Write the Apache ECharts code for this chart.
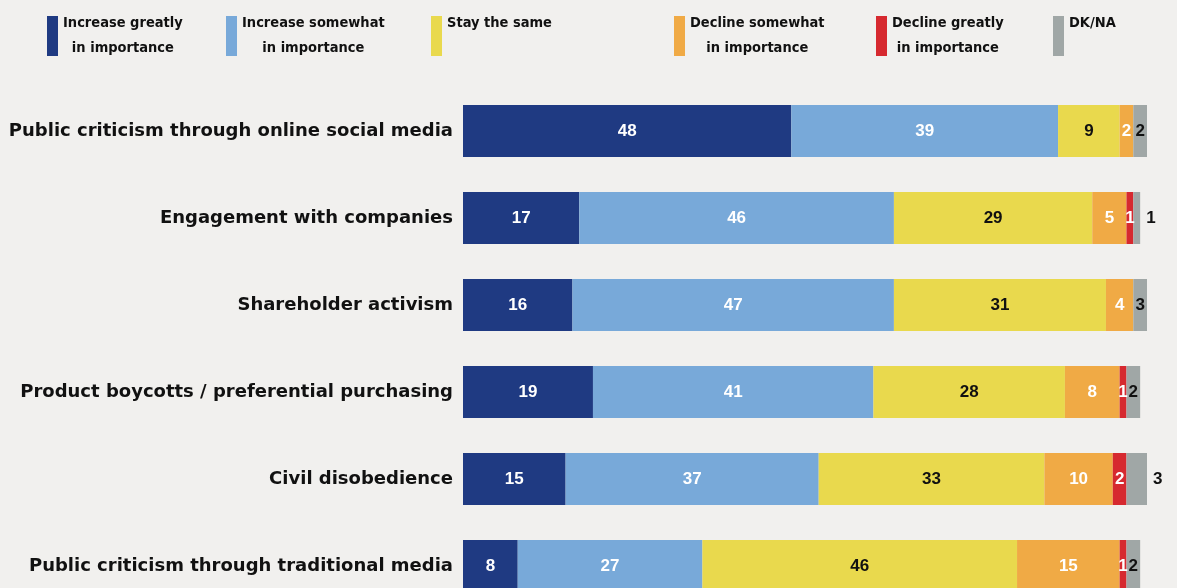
<!DOCTYPE html>
<html>
<head>
<meta charset="utf-8">
<script src="https://cdn.jsdelivr.net/npm/echarts@6/dist/echarts.min.js"></script>
<style>
  html, body { margin: 0; padding: 0; background: #f1f0ee; overflow: hidden; }
  #chart { width: 1177px; height: 588px; }
</style>
</head>
<body>
<div id="chart"></div>
<script>
// Survey categories, top to bottom
const categories = [
  'Public criticism through online social media',
  'Engagement with companies',
  'Shareholder activism',
  'Product boycotts / preferential purchasing',
  'Civil disobedience',
  'Public criticism through traditional media'
];

// Response shares (%) per category
const increaseGreatly  = [48, 17, 16, 19, 15, 8];
const increaseSomewhat = [39, 46, 47, 41, 37, 27];
const staySame         = [9, 29, 31, 28, 33, 46];
const declineSomewhat  = [2, 5, 4, 8, 10, 15];
const declineGreatly   = [0, 1, 0, 1, 2, 1];
const dkNa             = [2, 1, 3, 2, 3, 2];

const seriesNames = [
  'Increase greatly in importance',
  'Increase somewhat in importance',
  'Stay the same',
  'Decline somewhat in importance',
  'Decline greatly in importance',
  'DK/NA'
];
const legendLines = [
  ['Increase greatly', 'in importance'],
  ['Increase somewhat', 'in importance'],
  ['Stay the same', ''],
  ['Decline somewhat', 'in importance'],
  ['Decline greatly', 'in importance'],
  ['DK/NA', '']
];

const seriesValues = [increaseGreatly, increaseSomewhat, staySame, declineSomewhat, declineGreatly, dkNa];
const colors = ['#1f3a82', '#78a9d9', '#e9d94d', '#f0aa45', '#d6292f', '#a0a7a6'];
const labelColors = ['#fff', '#fff', '#111', '#fff', '#fff', '#111'];
// DK/NA values whose label sits outside the bar end
const dkOutsideRows = [1, 4];

const legendLeft = [47, 226, 431, 674, 876, 1053];

const legendFamily = '"DejaVu Sans Condensed", "DejaVu Sans", sans-serif';
const legendSize = 14.5;
const labelFamily = '"Liberation Sans", Arial, sans-serif';

// measure text so the second legend line can be centred under the first
const measureCtx = document.createElement('canvas').getContext('2d');
function textWidth(str) {
  measureCtx.font = 'bold ' + legendSize + 'px ' + legendFamily;
  return measureCtx.measureText(str).width;
}

const legends = seriesNames.map((name, i) => {
  const [l1, l2] = legendLines[i];
  const pad = l2 ? Math.max(0, (textWidth(l1) - textWidth(l2)) / 2) : 0;
  const tokenStyle = {
    fontFamily: legendFamily,
    fontWeight: 'bold',
    fontSize: legendSize,
    lineHeight: 25,
    color: '#111'
  };
  return {
    data: [name],
    left: legendLeft[i],
    top: 16,
    itemWidth: 11,
    itemHeight: 40,
    itemGap: 0,
    padding: 0,
    icon: 'rect',
    selectedMode: false,
    formatter: () => '{a|' + l1 + '}\n{b|' + (l2 || ' ') + '}',
    textStyle: {
      rich: {
        a: tokenStyle,
        b: Object.assign({ padding: [0, 0, 0, pad] }, tokenStyle)
      }
    }
  };
});

const series = seriesValues.map((vals, s) => ({
  name: seriesNames[s],
  type: 'bar',
  stack: 'total',
  barWidth: 52,
  itemStyle: { color: colors[s] },
  label: {
    show: true,
    position: 'inside',
    color: labelColors[s],
    fontFamily: labelFamily,
    fontWeight: 'bold',
    fontSize: 17,
    formatter: p => (p.value ? String(p.value) : '')
  },
  data: vals.map((v, r) => {
    if (s === 5 && dkOutsideRows.includes(r)) {
      return { value: v, label: { position: 'right', distance: 6, color: '#111' } };
    }
    return v;
  })
}));

const chart = echarts.init(document.getElementById('chart'), null, { renderer: 'canvas' });
chart.setOption({
  backgroundColor: '#f1f0ee',
  animation: false,
  color: colors,
  legend: legends,
  // the last row runs past the bottom edge, so the grid is allowed to overflow
  grid: {
    left: 463, right: 30, top: 87.5, height: 522,
    containLabel: false,
    outerBoundsMode: 'none'
  },
  xAxis: {
    type: 'value',
    min: 0,
    max: 100,
    show: false
  },
  yAxis: {
    type: 'category',
    data: categories,
    inverse: true,
    axisLine: { show: false },
    axisTick: { show: false },
    axisLabel: {
      margin: 10,
      color: '#111',
      fontFamily: '"DejaVu Sans", sans-serif',
      fontWeight: 'bold',
      fontSize: 18
    }
  },
  series: series
});
</script>
</body>
</html>
